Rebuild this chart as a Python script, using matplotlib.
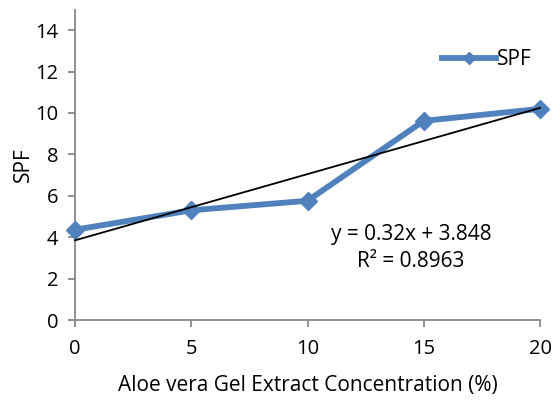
import matplotlib
matplotlib.use('Agg')
import matplotlib.pyplot as plt
import numpy as np

# data
conc = [0, 5, 10, 15, 20]
spf = [4.36, 5.3, 5.76, 9.62, 10.2]
slope, intercept = 0.32, 3.848
x_ticks = [0, 5, 10, 15, 20]
y_ticks = [0, 2, 4, 6, 8, 10, 12, 14]

plt.rcParams['font.family'] = ['Open Sans', 'DejaVu Sans']

fig = plt.figure(figsize=(5.54, 4.01), dpi=100)
ax = fig.add_axes([75 / 554, 81 / 401, 465 / 554, 310.5 / 401])

blue = '#4F81BD'
ax.plot(conc, spf, color=blue, linewidth=4.2, marker='D', markersize=9.5,
        label='SPF', zorder=3, clip_on=False)
tx = np.array([conc[0], conc[-1]])
ax.plot(tx, slope * tx + intercept, color='black', linewidth=1.3, zorder=4,
        clip_on=False)

ax.set_xlim(0, 20)
ax.set_ylim(0, 15)
ax.set_xticks(x_ticks)
ax.set_yticks(y_ticks)
for side in ('top', 'right'):
    ax.spines[side].set_visible(False)
for side in ('left', 'bottom'):
    ax.spines[side].set_color('#888888')
    ax.spines[side].set_linewidth(1.3)
ax.tick_params(direction='out', length=5, color='#888888', width=1.3,
               labelsize=14.5, labelcolor='black')
ax.tick_params(axis='x', pad=9)
ax.tick_params(axis='y', pad=7)

ax.set_xlabel('Aloe vera Gel Extract Concentration (%)', fontsize=15, labelpad=11)
ax.set_ylabel('SPF', fontsize=15, labelpad=1)

ax.text(14.45, 3.48, 'y = 0.32x + 3.848\nR² = 0.8963', ha='center', va='center',
        fontsize=15, linespacing=1.4)

leg = ax.legend(loc='upper right', bbox_to_anchor=(1.0, 0.90), frameon=False,
                fontsize=15, handlelength=2.6, handletextpad=0.05,
                borderaxespad=0, markerscale=0.63)

fig.savefig('out.png', dpi=100)
